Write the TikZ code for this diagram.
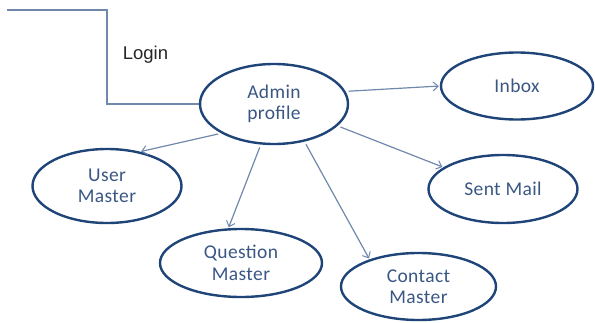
\documentclass[tikz,border=0pt]{standalone}
\usepackage{fontspec}
\setmainfont{Carlito}[LetterSpace=2]
\newfontfamily\loginfont{Liberation Sans}
\usetikzlibrary{shapes.geometric,arrows.meta}
\definecolor{ellstroke}{HTML}{1F4478}
\definecolor{elltext}{HTML}{3A5784}
\definecolor{linecol}{HTML}{7088AC}
\tikzset{
  usecase/.style={ellipse, draw=ellstroke, line width=2.4pt, text=elltext,
    font=\fontsize{19.5}{21.5}\selectfont, align=center, inner sep=0pt},
  conn/.style={draw=linecol, line width=1.2pt,
    -{Straight Barb[length=5pt,width=9pt,line width=1pt]},
    shorten <=3pt, shorten >=1pt},
  loginline/.style={draw=linecol, line width=1.2pt}
}
\begin{document}
\begin{tikzpicture}[x=1pt,y=-1pt]
\useasboundingbox (0,0) rectangle (595,322);
\node[usecase, minimum width=148pt, minimum height=80pt] (admin) at (274,104) {Admin\\profile};
\node[usecase, minimum width=152pt, minimum height=67pt] (inbox) at (517,86) {Inbox};
\node[usecase, minimum width=149pt, minimum height=68pt] (sent) at (503,189) {Sent Mail};
\node[usecase, minimum width=149pt, minimum height=74pt] (user) at (107,186) {User\\Master};
\node[usecase, minimum width=162pt, minimum height=68pt] (question) at (241,263) {Question\\Master};
\node[usecase, minimum width=155pt, minimum height=67pt] (contact) at (418.5,286.5) {Contact\\Master};
\node[font=\loginfont\fontsize{18.5}{22}\selectfont, text=black!85, anchor=center] (login) at (145.5,55) {Login};
\coordinate (ls) at (7,10);
\coordinate (lc) at (107,10);
\draw[loginline] (ls) -- (lc) |- (admin.west);
\draw[conn] (admin.209) -- (user.46.6);
\draw[conn] (admin.252) -- (question.110.4);
\draw[conn] (admin.309.7) -- (contact.151.5);
\draw[conn] (admin.10.7) -- (inbox.180);
\draw[conn] (admin.341.3) -- (sent.160.5);
\end{tikzpicture}
\end{document}
